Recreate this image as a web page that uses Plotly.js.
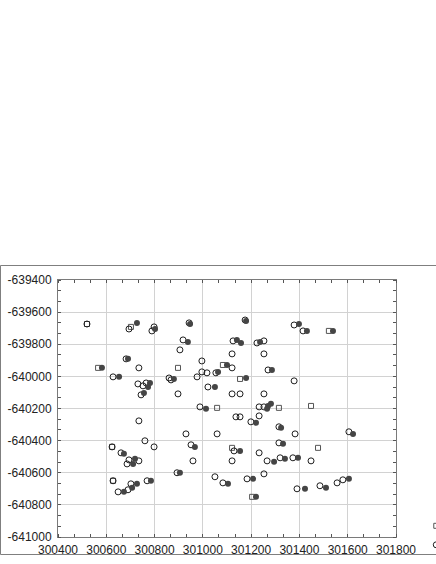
<!DOCTYPE html>
<html>
<head>
<meta charset="utf-8">
<script src="https://cdn.plot.ly/plotly-3.0.1.min.js"></script>
<style>
    html, body { margin: 0; padding: 0; background: #fff; }
    #chart { width: 436px; height: 564px; }
</style>
</head>
<body>
<div id="chart"></div>
<script>
// open squares
const squareX = [300520, 300702, 300566, 300897, 301059, 301083, 301154, 301315, 301448, 301522,
    300624, 301121, 301477, 300628, 301204];
const squareY = [-639674, -639692, -639947, -639947, -640196, -639929, -640016, -640196, -640184, -639717,
    -640439, -640445, -640445, -640650, -640750];

// open circles
const circleX = [300520, 300694, 300789, 300798, 300943, 300918, 300905, 300682, 300735, 300628,
    300731, 300752, 300765, 300744, 300860, 300868, 300897, 300996, 300996, 301017,
    300976, 301054, 301021, 300988, 301175, 301378, 301415, 301125, 301224, 301253,
    301121, 301253, 301121, 301270, 301378, 301121, 301154, 301253, 301233, 301253,
    300735, 300930, 301059, 300760, 300624, 300798, 300951, 300661, 300694, 300735,
    300686, 300959, 300893, 300628, 300702, 300769, 301050, 300690, 300649, 301137,
    301154, 301233, 301199, 301315, 301382, 301605, 301129, 301315, 301233, 301121,
    301266, 301320, 301373, 301448, 301083, 301183, 301253, 301390, 301485, 301556,
    301580];
const circleY = [-639674, -639705, -639717, -639692, -639667, -639773, -639835, -639891, -639947, -640003,
    -640047, -640059, -640041, -640115, -640010, -640022, -640109, -639904, -639972, -639978,
    -640003, -639978, -640066, -640190, -639649, -639680, -639717, -639779, -639792, -639779,
    -639860, -639860, -639947, -639960, -640028, -640109, -640109, -640109, -640190, -640190,
    -640277, -640358, -640358, -640401, -640439, -640439, -640426, -640476, -640520, -640526,
    -640545, -640526, -640600, -640650, -640669, -640650, -640625, -640706, -640719, -640252,
    -640252, -640246, -640283, -640314, -640358, -640345, -640464, -640414, -640476, -640526,
    -640526, -640507, -640507, -640526, -640663, -640638, -640607, -640700, -640681, -640663,
    -640644];

// filled circles
const dotX = [300727, 300802, 300947, 300938, 300690, 300582, 300653, 300773, 300781, 300756,
    300880, 301050, 301013, 301179, 301398, 301431, 301539, 301141, 301158, 301237,
    301100, 301063, 301286, 301179, 301270, 301282, 301266, 300967, 300673, 300719,
    300711, 300905, 300727, 300785, 300707, 300673, 301220, 301324, 301622, 301154,
    301332, 301295, 301340, 301394, 301104, 301208, 301423, 301510, 301605, 301220];
const dotY = [-639667, -639705, -639674, -639786, -639891, -639947, -640003, -640066, -640041, -640103,
    -640016, -640066, -640202, -639655, -639674, -639717, -639717, -639773, -639792, -639786,
    -639929, -639972, -639960, -640010, -640184, -640171, -640202, -640439, -640482, -640513,
    -640545, -640600, -640669, -640650, -640694, -640719, -640289, -640320, -640358, -640464,
    -640420, -640532, -640513, -640507, -640669, -640638, -640700, -640694, -640638, -640750];

const xTickVals = [300400, 300600, 300800, 301000, 301200, 301400, 301600, 301800];
const xTickText = ['300400', '300600', '300800', '301000', '301200', '301400', '301600', '301800'];
const yTickVals = [-639400, -639600, -639800, -640000, -640200, -640400, -640600, -640800, -641000];
const yTickText = ['-639400', '-639600', '-639800', '-640000', '-640200', '-640400', '-640600', '-640800', '-641000'];

const traceSquares = {
    x: squareX,
    y: squareY,
    type: 'scatter',
    mode: 'markers',
    name: 'Var1',
    marker: { symbol: 'square-open', size: 5, color: '#555555', line: { width: 1 } }
};

const traceCircles = {
    x: circleX,
    y: circleY,
    type: 'scatter',
    mode: 'markers',
    name: 'Var2',
    marker: { symbol: 'circle-open', size: 6, color: '#1e1e1e', line: { width: 1 } }
};

const traceDots = {
    x: dotX,
    y: dotY,
    type: 'scatter',
    mode: 'markers',
    name: 'Var3',
    showlegend: false,
    marker: { symbol: 'circle', size: 6, color: '#454545' }
};

const axisCommon = {
    showgrid: true,
    gridcolor: '#d2d2d2',
    gridwidth: 1,
    zeroline: false,
    showline: true,
    linecolor: '#7a7a7a',
    linewidth: 1,
    mirror: 'allticks',
    ticks: '',
    automargin: false,
    tickangle: 0,
    tickfont: { family: 'Liberation Sans, Arial, sans-serif', size: 12, color: '#222' }
};

const layout = {
    width: 436,
    height: 564,
    margin: { l: 58, r: 40, t: 280, b: 27, autoexpand: false },
    paper_bgcolor: '#ffffff',
    plot_bgcolor: '#ffffff',
    xaxis: Object.assign({}, axisCommon, {
        range: [300400, 301800],
        tickmode: 'array',
        tickvals: xTickVals,
        ticktext: xTickText,
        ticklabelstandoff: 2,
        minor: { tick0: 300400, dtick: 200 / 3, ticks: 'inside', ticklen: 3, tickcolor: '#555', showgrid: false }
    }),
    yaxis: Object.assign({}, axisCommon, {
        range: [-641000, -639400],
        tickmode: 'array',
        tickvals: yTickVals,
        ticktext: yTickText,
        ticklabelstandoff: 3,
        minor: { tick0: -641000, dtick: 200 / 3, ticks: 'inside', ticklen: 3, tickcolor: '#555', showgrid: false }
    }),
    showlegend: true,
    legend: {
        x: 1.06, y: 0.1, xanchor: 'left', yanchor: 'top',
        font: { family: 'Liberation Sans, Arial, sans-serif', size: 10, color: '#222' },
        bgcolor: 'rgba(0,0,0,0)',
        tracegroupgap: 0
    },
    shapes: [{
        type: 'rect', xref: 'paper', yref: 'paper',
        x0: -0.1701, x1: 1.2, y0: -0.0681, y1: 1.0564,
        line: { color: '#7f7f7f', width: 1 }
    }]
};

const data = [traceSquares, traceCircles, traceDots];

Plotly.newPlot('chart', data, layout, { displayModeBar: false });
</script>
</body>
</html>
